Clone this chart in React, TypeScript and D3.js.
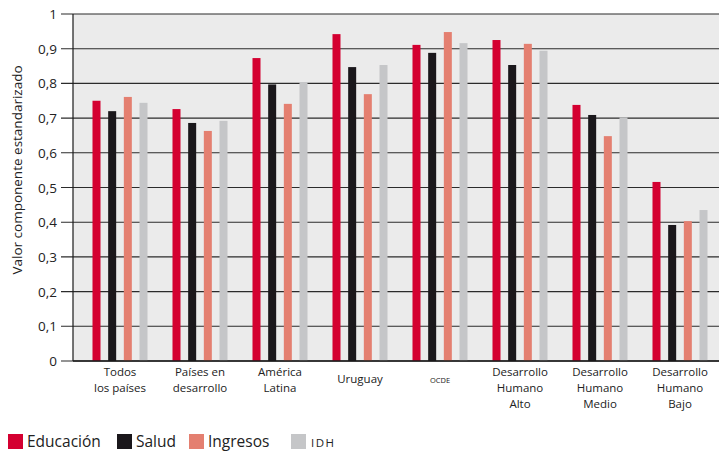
import { useEffect, useRef } from 'react';
import * as d3 from 'd3';

const width = 719;
const height = 451;

const categories = [
  'Todos|los países',
  'Países en|desarrollo',
  'América|Latina',
  'Uruguay',
  'OCDE',
  'Desarrollo|Humano|Alto',
  'Desarrollo|Humano|Medio',
  'Desarrollo|Humano|Bajo',
];
const series = ['Educación', 'Salud', 'Ingresos', 'IDH'];
const colors = ['#d40031', '#1a171b', '#e47f70', '#c5c6c8'];

const educacion = [0.75, 0.726, 0.873, 0.942, 0.911, 0.925, 0.738, 0.516];
const salud = [0.72, 0.686, 0.797, 0.847, 0.888, 0.853, 0.709, 0.392];
const ingresos = [0.761, 0.663, 0.741, 0.769, 0.948, 0.914, 0.648, 0.403];
const idh = [0.744, 0.692, 0.804, 0.853, 0.916, 0.894, 0.702, 0.435];
const yTicks = [0, 0.1, 0.2, 0.3, 0.4, 0.5, 0.6, 0.7, 0.8, 0.9, 1];

const font = '"Open Sans", "DejaVu Sans", sans-serif';

function drawChart(node: SVGSVGElement) {
  const svg = d3.select(node);
  svg.selectAll('*').remove();

  const left = 73;
  const top = 14;
  const bottom = 361;
  const values = [educacion, salud, ingresos, idh];

  const y = d3.scaleLinear().domain([0, 1]).range([bottom, top]);
  const x0 = d3.scaleBand().domain(categories).range([80, 720]);
  const x1 = d3.scalePoint().domain(series).range([-23.5, 23.5]);
  const barW = 8;

  // plot background
  svg.append('rect')
    .attr('x', left)
    .attr('y', top)
    .attr('width', width - left)
    .attr('height', bottom - top)
    .attr('fill', '#ebebeb');

  // grid lines
  svg.append('g')
    .selectAll('line')
    .data(yTicks)
    .join('line')
    .attr('x1', 61)
    .attr('x2', width)
    .attr('y1', d => y(d))
    .attr('y2', d => y(d))
    .attr('stroke', '#2b2b2b')
    .attr('stroke-width', 1.1);

  svg.append('g')
    .selectAll('text')
    .data(yTicks)
    .join('text')
    .attr('x', 57)
    .attr('y', d => y(d) + 5)
    .attr('text-anchor', 'end')
    .attr('font-family', font)
    .attr('font-size', 13.5)
    .attr('fill', '#222')
    .text(d => d3.format('.1~f')(d).replace('.', ','));

  // bars
  const groups = svg.append('g')
    .selectAll('g')
    .data(categories)
    .join('g')
    .attr('transform', d => `translate(${x0(d)! + x0.bandwidth() / 2},0)`);

  groups.selectAll('rect')
    .data((_, i) => series.map((s, j) => ({ s, j, v: values[j][i] })))
    .join('rect')
    .attr('x', d => x1(d.s)! - barW / 2)
    .attr('y', d => y(d.v))
    .attr('width', barW)
    .attr('height', d => y(0) - y(d.v))
    .attr('fill', d => colors[d.j]);

  // axis line
  svg.append('line')
    .attr('x1', left).attr('x2', left)
    .attr('y1', top).attr('y2', bottom)
    .attr('stroke', '#1a1a1a')
    .attr('stroke-width', 1.2);
  svg.append('line')
    .attr('x1', left).attr('x2', width)
    .attr('y1', bottom).attr('y2', bottom)
    .attr('stroke', '#1a1a1a')
    .attr('stroke-width', 1.4);

  // category labels
  const labels = svg.append('g')
    .selectAll('text')
    .data(categories)
    .join('text')
    .attr('text-anchor', 'middle')
    .attr('font-family', font)
    .attr('font-size', d => (d === 'OCDE' ? 7.5 : 11.5))
    .attr('fill', '#222')
    .attr('transform', d => `translate(${x0(d)! + x0.bandwidth() / 2},0)`);

  labels.selectAll('tspan')
    .data(d => d.split('|').map(t => ({ t, single: !d.includes('|') })))
    .join('tspan')
    .attr('x', 0)
    .attr('y', (d, i) => (d.single ? 383 : 376 + i * 16))
    .text(d => d.t);

  // y title
  svg.append('text')
    .attr('transform', 'translate(22,170) rotate(-90)')
    .attr('text-anchor', 'middle')
    .attr('font-family', font)
    .attr('font-size', 13.5)
    .attr('fill', '#222')
    .text('Valor componente estandarizado');

  // legend
  const legendX = [8, 117, 189, 291];
  const legend = svg.append('g')
    .selectAll('g')
    .data(series)
    .join('g')
    .attr('transform', (_, i) => `translate(${legendX[i]},434)`);

  legend.append('rect')
    .attr('width', 15)
    .attr('height', 15)
    .attr('fill', (_, i) => colors[i]);

  legend.append('text')
    .attr('x', d => (d === 'IDH' ? 20 : 19))
    .attr('y', 12.5)
    .attr('font-family', font)
    .attr('font-size', d => (d === 'IDH' ? 11.5 : 15.5))
    .attr('letter-spacing', d => (d === 'IDH' ? 1.5 : 0))
    .attr('fill', '#222')
    .text(d => d);
}

export default function App() {
  const ref = useRef<SVGSVGElement>(null);

  useEffect(() => {
    if (ref.current) drawChart(ref.current);
  }, []);

  return (
    <svg
      ref={ref}
      width={width}
      height={height}
      style={{ position: 'absolute', left: 0, top: 0, background: '#fff' }}
    />
  );
}
